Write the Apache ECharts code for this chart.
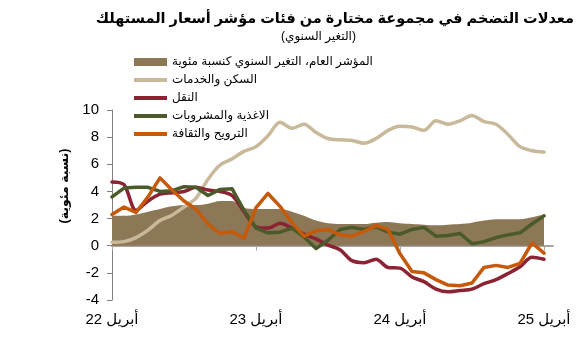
<!DOCTYPE html>
<html>
<head>
<meta charset="utf-8">
<script src="https://cdn.jsdelivr.net/npm/echarts@6/dist/echarts.min.js"></script>
<style>
  html, body { margin: 0; padding: 0; background: #fff; }
  #chart { width: 581px; height: 341px; }
</style>
</head>
<body>
<div id="chart"></div>
<script>
// Monthly readings, April 2022 (index 0) through April 2025 (index 36)
const tickMonths = [0, 12, 24, 36];
const tickLabels = ['أبريل 22', 'أبريل 23', 'أبريل 24', 'أبريل 25'];

const seriesNames = [
  'المؤشر العام، التغير السنوي كنسبة مئوية',
  'السكن والخدمات',
  'النقل',
  'الاغذية والمشروبات',
  'الترويح والثقافة'
];

const headline = [2.2, 2.2, 2.3, 2.5, 2.7, 2.9, 3.0, 3.0, 3.1, 3.3, 3.3, 2.8, 2.7,
  2.7, 2.7, 2.5, 2.2, 1.85, 1.65, 1.6, 1.6, 1.6, 1.7, 1.75, 1.65, 1.6, 1.55,
  1.5, 1.55, 1.6, 1.7, 1.85, 1.95, 1.95, 1.95, 2.1, 2.3];

const housing = [0.25, 0.3, 0.6, 1.15, 1.85, 2.25, 2.85, 3.5, 4.9, 5.95, 6.4, 6.95, 7.3,
  8.1, 9.1, 8.65, 8.95, 8.35, 7.9, 7.8, 7.75, 7.55, 7.9, 8.5, 8.8, 8.75, 8.5,
  9.2, 8.95, 9.2, 9.6, 9.15, 8.95, 8.2, 7.3, 7.0, 6.9];

const transport = [4.7, 4.5, 2.6, 3.3, 3.8, 3.9, 4.0, 4.3, 4.1, 4.0, 3.7, 2.5, 1.4,
  1.3, 1.65, 1.3, 0.85, 0.5, 0.05, -0.3, -1.1, -1.25, -1.0, -1.6, -1.65, -2.3, -2.65,
  -3.2, -3.4, -3.3, -3.2, -2.8, -2.5, -2.05, -1.55, -0.85, -1.0];

const food = [3.6, 4.25, 4.3, 4.3, 4.0, 4.05, 4.35, 4.3, 3.7, 4.15, 4.2, 2.6, 1.3,
  0.95, 1.0, 1.3, 0.65, -0.2, 0.4, 1.2, 1.35, 1.2, 1.4, 1.0, 0.85, 1.2, 1.35,
  0.7, 0.75, 0.9, 0.15, 0.3, 0.6, 0.8, 0.95, 1.6, 2.2];

const recreation = [2.3, 2.85, 2.45, 3.6, 5.0, 4.1, 3.3, 2.7, 1.6, 0.9, 1.05, 0.55, 2.8,
  3.85, 2.9, 1.7, 0.7, 1.1, 1.2, 0.8, 0.7, 1.05, 1.5, 1.2, -0.6, -1.9, -2.0,
  -2.5, -2.9, -2.95, -2.75, -1.6, -1.45, -1.6, -1.3, 0.2, -0.55];

const FONT = '"Liberation Sans", Arial, "DejaVu Sans", sans-serif';
const toPairs = arr => arr.map((v, i) => [i, v]);

// Legend swatches: a full-height block for the area, a thinner bar for each line
const AREA_ICON = 'rect';
const LINE_ICON = 'path://M0,0 M0,2 L33,2 L33,6 L0,6 Z M33,8';

const chart = echarts.init(document.getElementById('chart'), null, { renderer: 'canvas' });

const lineSeries = (name, data, color, smooth) => ({
  name, type: 'line', data: toPairs(data), symbol: 'none', smooth,
  lineStyle: { color, width: 3.5, cap: 'round', join: 'round' },
  itemStyle: { color },
  xAxisIndex: 0, yAxisIndex: 0
});

chart.setOption({
  animation: false,
  backgroundColor: '#ffffff',
  textStyle: { fontFamily: FONT },
  title: [
    {
      text: 'معدلات التضخم في مجموعة مختارة من فئات مؤشر أسعار المستهلك',
      right: 2, top: 6,
      textStyle: { fontSize: 14.5, fontWeight: 'bold', color: '#000', fontFamily: FONT }
    },
    {
      text: '(التغير السنوي)',
      left: 276, top: 26,
      textStyle: { fontSize: 12, fontWeight: 'normal', color: '#000', fontFamily: FONT }
    }
  ],
  legend: {
    orient: 'vertical',
    left: 129, top: 51,
    itemWidth: 33, itemHeight: 8, itemGap: 6,
    textStyle: { fontSize: 12, color: '#000', fontFamily: FONT },
    data: seriesNames.map((name, i) => ({ name, icon: i === 0 ? AREA_ICON : LINE_ICON }))
  },
  grid: { left: 112, right: 28, top: 110, bottom: 41, containLabel: false },
  xAxis: [
    {
      type: 'value', min: 0, max: 36.75,
      axisLine: { onZero: true, lineStyle: { color: '#a6a6a6', width: 2 } },
      axisTick: { show: true, customValues: tickMonths, length: 5, lineStyle: { color: '#a6a6a6' } },
      axisLabel: { show: false },
      splitLine: { show: false }
    },
    {
      type: 'value', min: 0, max: 36.75, position: 'bottom',
      axisLine: { show: false, onZero: false },
      axisTick: { show: false },
      splitLine: { show: false },
      axisLabel: {
        customValues: tickMonths,
        formatter: v => tickLabels[tickMonths.indexOf(v)] || '',
        fontSize: 15, color: '#000', margin: 12, fontFamily: FONT
      }
    }
  ],
  yAxis: {
    type: 'value', min: -4, max: 10, interval: 2,
    name: '(نسبة مئوية)',
    nameLocation: 'middle', nameRotate: 90, nameGap: 40,
    nameTextStyle: { fontSize: 12.5, fontWeight: 'bold', color: '#000', padding: [0, 0, 0, 38], fontFamily: FONT },
    axisLine: { show: true, lineStyle: { color: '#7f7f7f', width: 1 } },
    axisTick: { show: true, length: 5, lineStyle: { color: '#7f7f7f' } },
    axisLabel: { fontSize: 15, color: '#000', margin: 13, fontFamily: FONT },
    splitLine: { show: false }
  },
  series: [
    {
      name: seriesNames[0], type: 'line', data: toPairs(headline), symbol: 'none', smooth: 0.3,
      lineStyle: { width: 0 },
      itemStyle: { color: '#8c7757' },
      areaStyle: { color: '#8c7757', opacity: 1, origin: 0 },
      xAxisIndex: 0, yAxisIndex: 0
    },
    lineSeries(seriesNames[1], housing, '#c9b99b', 0.3),
    lineSeries(seriesNames[2], transport, '#8b2332', 0.3),
    lineSeries(seriesNames[3], food, '#4b5a2b', false),
    lineSeries(seriesNames[4], recreation, '#c55a0a', false)
  ]
});
</script>
</body>
</html>
